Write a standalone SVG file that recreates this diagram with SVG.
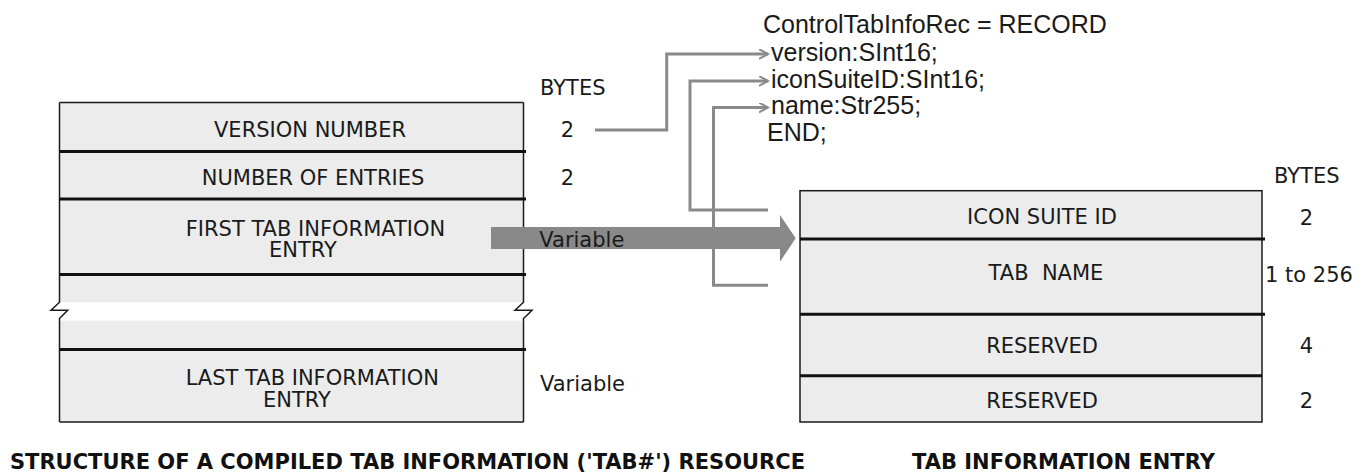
<svg xmlns="http://www.w3.org/2000/svg" width="1366" height="474" viewBox="0 0 1366 474">
  <defs>
    <style>
      .lbl{font-family:"DejaVu Sans",sans-serif;font-size:21px;fill:#1a1a1a}
      .mid{text-anchor:middle}
      .code{font-family:"Liberation Sans",Arial,sans-serif;font-size:25px;fill:#1a1a1a}
      .title{font-family:"DejaVu Sans",sans-serif;font-size:21px;font-weight:bold;fill:#111}
      .fill{fill:#ececec}
      .edge{fill:none;stroke:#1a1a1a;stroke-width:1.5}
      .div{stroke:#111;stroke-width:3}
      .conn{fill:none;stroke:#8a8a8a;stroke-width:3;marker-end:url(#chev)}
    </style>
    <marker id="chev" markerUnits="userSpaceOnUse" markerWidth="12" markerHeight="12" refX="9" refY="5" orient="auto">
      <path d="M0,0 L9,5 L0,10" fill="none" stroke="#8a8a8a" stroke-width="2"/>
    </marker>
  </defs>

  <!-- compiled 'tab#' resource layout, with a break between first and last entries -->
  <g id="resource-box">
    <rect class="fill" x="59.5" y="102.5" width="464" height="319.5"/>
    <rect x="50" y="302.3" width="490" height="18.4" fill="#ffffff"/>
    <line class="edge" x1="59.5" y1="102.5" x2="523.5" y2="102.5"/>
    <line class="edge" x1="59.5" y1="422" x2="523.5" y2="422"/>
    <path class="edge" d="M59.5,102.5 V302.3 L51,310.3 H67.7 L59.5,318.5 V422"/>
    <path class="edge" d="M523.5,102.5 V302.3 L515,310.3 H532 L523.5,318.5 V422"/>
    <line class="div" x1="59.5" y1="151.5" x2="526" y2="151.5"/>
    <line class="div" x1="59.5" y1="199" x2="526" y2="199"/>
    <line class="div" x1="59.5" y1="274.5" x2="526" y2="274.5"/>
    <line class="div" x1="59.5" y1="349.5" x2="526" y2="349.5"/>
    <text class="lbl" x="214" y="136.7">VERSION NUMBER</text>
    <text class="lbl" x="201.7" y="185">NUMBER OF ENTRIES</text>
    <text class="lbl" x="185.7" y="235.7">FIRST TAB INFORMATION</text>
    <text class="lbl" x="269" y="256.7">ENTRY</text>
    <text class="lbl" x="185.7" y="385">LAST TAB INFORMATION</text>
    <text class="lbl" x="263" y="406.7">ENTRY</text>
  </g>

  <!-- expansion arrow from the first entry to the entry layout -->
  <g id="expand-arrow">
    <polygon points="491,227 780,227 780,215 795.7,238.3 780,261.7 780,249 491,249" fill="#898989"/>
  </g>

  <g id="resource-bytes">
    <text class="lbl" x="540" y="95">BYTES</text>
    <text class="lbl mid" x="567.5" y="136.7">2</text>
    <text class="lbl mid" x="567.5" y="185">2</text>
    <text class="lbl" x="539.3" y="246.7">Variable</text>
    <text class="lbl" x="540" y="390.7">Variable</text>
  </g>

  <!-- Pascal record declaration -->
  <g id="record-decl">
    <text class="code" x="763" y="32.5">ControlTabInfoRec = RECORD</text>
    <text class="code" x="771" y="60.5">version:SInt16;</text>
    <text class="code" x="771" y="87.5">iconSuiteID:SInt16;</text>
    <text class="code" x="771" y="114">name:Str255;</text>
    <text class="code" x="767" y="141">END;</text>
  </g>

  <!-- tab information entry layout -->
  <g id="entry-box">
    <rect class="fill" x="800" y="190.7" width="462" height="231.3"/>
    <rect class="edge" x="800" y="190.7" width="462" height="231.3"/>
    <line class="div" x1="800" y1="239" x2="1265" y2="239"/>
    <line class="div" x1="800" y1="314.3" x2="1265" y2="314.3"/>
    <line class="div" x1="800" y1="375.7" x2="1262" y2="375.7"/>
    <text class="lbl mid" x="1042" y="224">ICON SUITE ID</text>
    <text class="lbl mid" x="1046" y="280" xml:space="preserve">TAB  NAME</text>
    <text class="lbl mid" x="1042" y="353">RESERVED</text>
    <text class="lbl mid" x="1042" y="408">RESERVED</text>
  </g>

  <g id="entry-bytes">
    <text class="lbl" x="1274" y="183.3">BYTES</text>
    <text class="lbl mid" x="1306.5" y="225">2</text>
    <text class="lbl" x="1265" y="281.5">1 to 256</text>
    <text class="lbl mid" x="1306.5" y="353">4</text>
    <text class="lbl mid" x="1306.5" y="408">2</text>
  </g>

  <!-- field connectors into the record declaration -->
  <g id="connectors">
    <polyline class="conn" points="595,130 666.7,130 666.7,54 768,54"/>
    <polyline class="conn" points="768,210 690,210 690,81 768,81"/>
    <polyline class="conn" points="768,285.3 713.5,285.3 713.5,107.5 768,107.5"/>
  </g>

  <g id="captions">
    <text class="title" x="10" y="469">STRUCTURE OF A COMPILED TAB INFORMATION ('TAB#') RESOURCE</text>
    <text class="title" x="912" y="469">TAB INFORMATION ENTRY</text>
  </g>
</svg>
